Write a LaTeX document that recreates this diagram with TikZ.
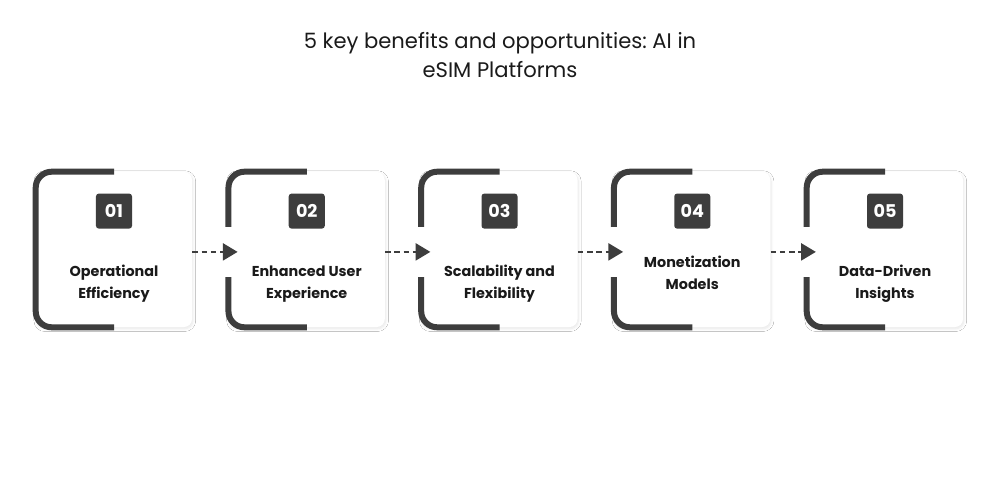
\documentclass[tikz,border=0pt]{standalone}
\usepackage{fontspec}
\setmainfont{Poppins}
\usetikzlibrary{shadows.blur,arrows.meta}
\frenchspacing

\definecolor{bracketgray}{HTML}{3D3D3D}
\definecolor{inkblack}{HTML}{1A1A1A}

\tikzset{
  card/.style={fill=white, rounded corners=0.2cm, minimum width=3.9cm, minimum height=3.875cm,
    blur shadow={shadow xshift=0.02cm, shadow yshift=-0.04cm, shadow opacity=10,
      shadow blur steps=6, shadow blur radius=0.07cm}},
  bracket/.style={draw=bracketgray, line width=0.15cm, rounded corners=0.4cm},
  numbox/.style={fill=bracketgray, rounded corners=0.07cm, minimum width=0.9cm, minimum height=0.875cm,
    text=white, font=\fontsize{12.5}{14}\selectfont\bfseries, inner sep=0pt},
  cardtext/.style={align=center, text=inkblack, font=\fontsize{10.2}{15.5}\selectfont\bfseries},
  flow/.style={draw=bracketgray, line width=1.8pt, dash pattern=on 4pt off 2.6pt,
    -{Triangle[length=10.5pt, width=12pt]}},
}

\begin{document}
\begin{tikzpicture}[x=0.025cm, y=-0.025cm]
  \useasboundingbox[fill=white] (0,0) rectangle (1000,500);

  % Title
  \node[align=center, text=inkblack, font=\fontsize{15}{20.6}\selectfont] (title) at (500,55)
    {5 key benefits and opportunities: AI in\\eSIM Platforms};

  % Cards
  \foreach \i/\num/\txt/\dy in {1/01/{Operational\\Efficiency}/34.5,
                                 2/02/{Enhanced User\\Experience}/34.5,
                                 3/03/{Scalability and\\Flexibility}/34.5,
                                 4/04/{Monetization\\Models}/23.5,
                                 5/05/{Data-Driven\\Insights}/34.5} {
    \node[card] (c\i) at ({114+192.75*(\i-1)},249.5) {};
    \draw[bracket] (c\i.north) -- (c\i.north west) -- (c\i.south west) -- (c\i.south);
    \node[numbox] (n\i) at ([yshift=0.96cm]c\i.center) {\num};
    \node[cardtext] (t\i) at ([yshift=-\dy*0.025cm]c\i.center) {\txt};
  }

  % Arrows
  \foreach \i [count=\j from 2] in {1,...,4} {
    \fill[white] ([xshift=-0.1cm, yshift=0.57cm]c\j.west) rectangle ([xshift=0.28cm, yshift=-0.68cm]c\j.west);
    \draw[flow] ([yshift=-0.06cm]c\i.east) -- ([xshift=0.23cm, yshift=-0.06cm]c\j.west);
  }
\end{tikzpicture}
\end{document}
